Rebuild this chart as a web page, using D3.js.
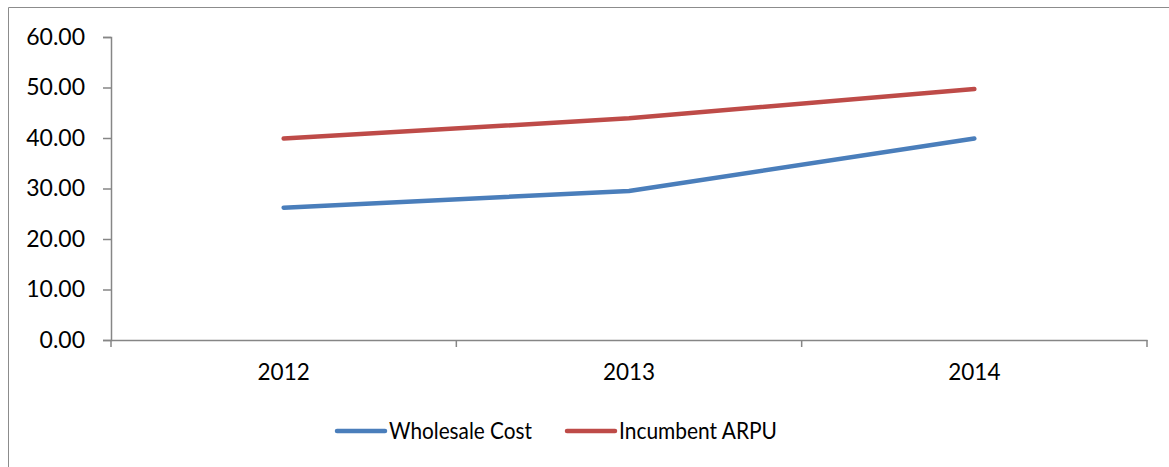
<!DOCTYPE html>
<html>
<head>
<meta charset="utf-8">
<script src="https://cdn.jsdelivr.net/npm/d3@7"></script>
<style>
  body { margin: 0; background: #fff; }
  #chart { width: 1169px; height: 467px; }
  text { font-family: Lato, "Open Sans", sans-serif; fill: #000; }
</style>
</head>
<body>
<div id="chart"></div>
<script>
// data
const years = ["2012", "2013", "2014"];
const wholesaleCost = [26.2, 29.5, 39.9];
const incumbentArpu = [39.9, 43.9, 49.7];
const yTicks = [0, 10, 20, 30, 40, 50, 60];
const seriesNames = ["Wholesale Cost", "Incumbent ARPU"];
const seriesColors = ["#4A7EBB", "#BE4B48"];

const width = 1169;
const height = 467;

const svg = d3.select("#chart")
  .append("svg")
  .attr("width", width)
  .attr("height", height);

// outer chart frame (only left and top edges fall inside the picture)
svg.append("path")
  .attr("d", `M8.5,${height} V7.5 H${width}`)
  .attr("fill", "none")
  .attr("stroke", "#8c8c8c")
  .attr("stroke-width", 1);

const margin = { top: 37, left: 111, right: 22, bottom: 127 };

const xScale = d3.scaleBand()
  .domain(years)
  .range([margin.left, width - margin.right]);

const yScale = d3.scaleLinear()
  .domain([0, 60])
  .range([height - margin.bottom, margin.top]);

// axes
const xAxis = svg.append("g")
  .attr("transform", `translate(0,${height - margin.bottom})`)
  .call(d3.axisBottom(xScale).tickSize(0).tickPadding(24));
xAxis.select(".domain").attr("stroke", "#868686").attr("stroke-width", 1.5);
xAxis.selectAll("text").attr("font-size", 22.5);

// band boundary tick marks
const bounds = years.map(y => xScale(y)).concat([xScale(years[years.length - 1]) + xScale.bandwidth()]);
xAxis.selectAll(".bound")
  .data(bounds)
  .enter()
  .append("line")
  .attr("x1", d => d)
  .attr("x2", d => d)
  .attr("y1", 0)
  .attr("y2", 7)
  .attr("stroke", "#868686")
  .attr("stroke-width", 1.5);

const yAxis = svg.append("g")
  .attr("transform", `translate(${margin.left},0)`)
  .call(d3.axisLeft(yScale).tickValues(yTicks).tickSize(8).tickPadding(18)
    .tickFormat(d3.format(".2f")));
yAxis.select(".domain").attr("stroke", "#868686").attr("stroke-width", 1.5);
yAxis.selectAll(".tick line").attr("stroke", "#868686").attr("stroke-width", 1.5);
yAxis.selectAll("text").attr("font-size", 23);

// lines
const line = d3.line()
  .x((d, i) => xScale(years[i]) + xScale.bandwidth() / 2)
  .y(d => yScale(d));

[wholesaleCost, incumbentArpu].forEach(function(values, k) {
  svg.append("path")
    .datum(values)
    .attr("d", line)
    .attr("fill", "none")
    .attr("stroke", seriesColors[k])
    .attr("stroke-width", 4.5)
    .attr("stroke-linecap", "round")
    .attr("stroke-linejoin", "round");
});

// legend
const legendX = [337, 567];
const legendTextLen = [143, 158];
const legend = svg.append("g").attr("transform", "translate(0,431)");
seriesNames.forEach(function(name, k) {
  legend.append("line")
    .attr("x1", legendX[k])
    .attr("x2", legendX[k] + 48)
    .attr("y1", 0)
    .attr("y2", 0)
    .attr("stroke", seriesColors[k])
    .attr("stroke-width", 4.5)
    .attr("stroke-linecap", "round");
  legend.append("text")
    .attr("x", legendX[k] + 52)
    .attr("y", 8)
    .attr("font-size", 23)
    .attr("textLength", legendTextLen[k])
    .attr("lengthAdjust", "spacingAndGlyphs")
    .text(name);
});
</script>
</body>
</html>
